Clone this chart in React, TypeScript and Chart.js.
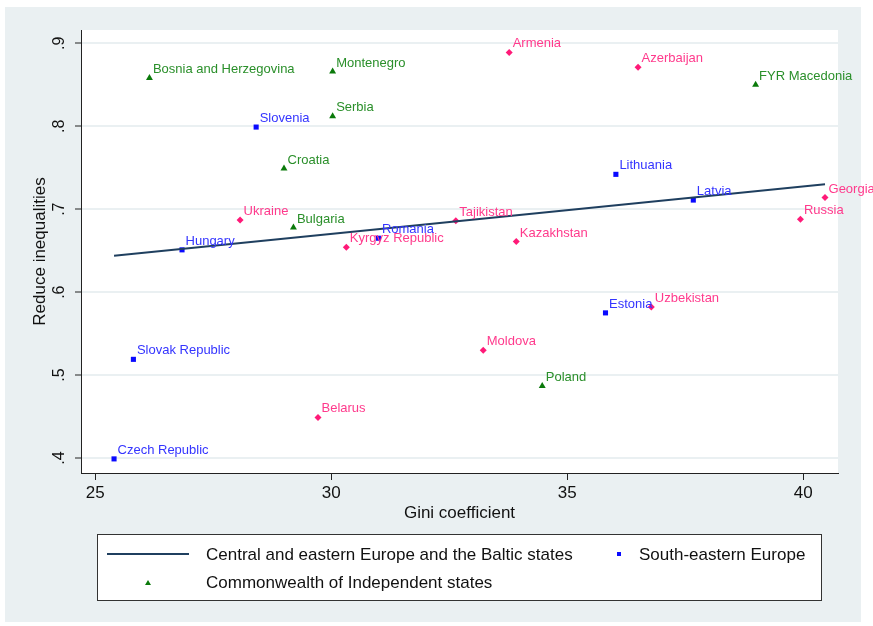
import React, { useEffect, useRef } from "react";
import { Chart, registerables } from "chart.js";

Chart.register(...registerables);

// ---- Data ----
const blueNames = ["Slovenia", "Hungary", "Romania", "Lithuania", "Latvia", "Slovak Republic", "Czech Republic", "Estonia"];
const blueGini = [28.41, 26.84, 31.0, 36.03, 37.67, 25.81, 25.4, 35.81];
const blueReduce = [0.799, 0.651, 0.665, 0.742, 0.711, 0.519, 0.399, 0.575];

const greenNames = ["Bosnia and Herzegovina", "Croatia", "Bulgaria", "Montenegro", "Serbia", "FYR Macedonia", "Poland"];
const greenGini = [26.15, 29.0, 29.2, 30.03, 30.03, 38.99, 34.47];
const greenReduce = [0.858, 0.749, 0.678, 0.866, 0.812, 0.85, 0.487];

const pinkNames = ["Ukraine", "Armenia", "Tajikistan", "Kyrgyz Republic", "Kazakhstan", "Azerbaijan", "Georgia", "Russia", "Moldova", "Belarus", "Uzbekistan"];
const pinkGini = [28.07, 33.77, 32.64, 30.32, 33.92, 36.5, 40.46, 39.94, 33.22, 29.72, 36.78];
const pinkReduce = [0.687, 0.889, 0.686, 0.654, 0.661, 0.871, 0.714, 0.688, 0.53, 0.449, 0.582];

const fitGini = [25.4, 40.46];
const fitReduce = [0.644, 0.73];

const xTicks = [25, 30, 35, 40];
const yTicks = [0.4, 0.5, 0.6, 0.7, 0.8, 0.9];
const yTickLabels = [".4", ".5", ".6", ".7", ".8", ".9"];

const legendLine = "Central and eastern Europe and the Baltic states";
const legendBlue = "South-eastern Europe";
const legendGreen = "Commonwealth of Independent states";
const xTitle = "Gini coefficient";
const yTitle = "Reduce inequalities";

const FONT = "'Liberation Sans', Arial, sans-serif";
const BG = "#eaf0f2";
const LINE_COLOR = "#1f3f5f";
const BLUE = "#0a0aff";
const BLUE_TXT = "#3434ff";
const GREEN = "#0b7a0b";
const GREEN_TXT = "#2a8f2a";
const PINK = "#ff1a78";
const PINK_TXT = "#ff3a8c";

const pts = (xs: number[], ys: number[]) => xs.map((x, i) => ({ x, y: ys[i] }));

export default function App() {
  const ref = useRef<HTMLCanvasElement | null>(null);

  useEffect(() => {
    const canvas = ref.current;
    if (!canvas) return;

    const bgPlugin = {
      id: "bg",
      beforeDraw(chart: any) {
        const { ctx, chartArea } = chart;
        ctx.save();
        ctx.fillStyle = "#ffffff";
        ctx.fillRect(0, 0, chart.width, chart.height);
        ctx.fillStyle = BG;
        ctx.fillRect(5, 7, 856, 615);
        ctx.fillStyle = "#ffffff";
        ctx.fillRect(chartArea.left, chartArea.top, chartArea.right - chartArea.left, chartArea.bottom - chartArea.top);
        ctx.restore();
      },
    };

    const labelPlugin = {
      id: "labels",
      afterDatasetsDraw(chart: any) {
        const { ctx } = chart;
        const groups: [number, string[], string][] = [
          [1, blueNames, BLUE_TXT],
          [2, greenNames, GREEN_TXT],
          [3, pinkNames, PINK_TXT],
        ];
        ctx.save();
        ctx.font = `13px ${FONT}`;
        ctx.textAlign = "left";
        ctx.textBaseline = "middle";
        groups.forEach(([idx, names, color]) => {
          const meta = chart.getDatasetMeta(idx);
          ctx.fillStyle = color;
          meta.data.forEach((el: any, i: number) => {
            ctx.fillText(names[i], el.x + 3.5, el.y - 8.5);
          });
        });
        ctx.restore();
      },
      afterDraw(chart: any) {
        const { ctx } = chart;
        const ys = chart.scales.y;
        ctx.save();
        ctx.fillStyle = "#111";
        // y tick labels (rotated)
        ctx.font = `16px ${FONT}`;
        ctx.textAlign = "center";
        ctx.textBaseline = "middle";
        yTicks.forEach((v, i) => {
          const py = ys.getPixelForValue(v);
          ctx.save();
          ctx.translate(60, py);
          ctx.rotate(-Math.PI / 2);
          ctx.fillText(yTickLabels[i], 0, 0);
          ctx.restore();
        });
        // axis titles
        ctx.font = `17px ${FONT}`;
        ctx.save();
        ctx.translate(40, (chart.chartArea.top + chart.chartArea.bottom) / 2);
        ctx.rotate(-Math.PI / 2);
        ctx.fillText(yTitle, 0, 0);
        ctx.restore();
        ctx.fillText(xTitle, (chart.chartArea.left + chart.chartArea.right) / 2, 513);

        // legend
        ctx.fillStyle = "#ffffff";
        ctx.fillRect(97.5, 534.5, 724, 66);
        ctx.strokeStyle = "#333";
        ctx.lineWidth = 1;
        ctx.strokeRect(97.5, 534.5, 724, 66);
        ctx.strokeStyle = LINE_COLOR;
        ctx.lineWidth = 2;
        ctx.beginPath();
        ctx.moveTo(107, 554);
        ctx.lineTo(189, 554);
        ctx.stroke();
        ctx.fillStyle = GREEN;
        ctx.beginPath();
        ctx.moveTo(148, 580);
        ctx.lineTo(151, 585);
        ctx.lineTo(145, 585);
        ctx.closePath();
        ctx.fill();
        ctx.fillStyle = BLUE;
        ctx.fillRect(617, 552, 4, 4);
        ctx.fillStyle = "#111";
        ctx.font = `17px ${FONT}`;
        ctx.textAlign = "left";
        ctx.fillText(legendLine, 206, 555, 374);
        ctx.fillText(legendBlue, 639, 555, 168);
        ctx.fillText(legendGreen, 206, 583, 292);
        ctx.restore();
      },
    };

    const chart = new Chart(canvas, {
      type: "scatter",
      data: {
        datasets: [
          {
            label: legendLine,
            data: pts(fitGini, fitReduce),
            showLine: true,
            borderColor: LINE_COLOR,
            borderWidth: 2,
            pointRadius: 0,
          } as any,
          {
            label: legendBlue,
            data: pts(blueGini, blueReduce),
            pointStyle: "rect",
            pointRadius: 3.6,
            backgroundColor: BLUE,
            borderColor: BLUE,
            borderWidth: 0,
          },
          {
            label: legendGreen,
            data: pts(greenGini, greenReduce),
            pointStyle: "triangle",
            pointRadius: 4,
            backgroundColor: GREEN,
            borderColor: GREEN,
            borderWidth: 0,
          },
          {
            label: "Other",
            data: pts(pinkGini, pinkReduce),
            pointStyle: "rectRot",
            pointRadius: 3.5,
            backgroundColor: PINK,
            borderColor: PINK,
            borderWidth: 0,
          },
        ],
      },
      options: {
        animation: false,
        responsive: false,
        devicePixelRatio: 1,
        layout: { padding: { left: 0, right: 35, top: 30, bottom: 93 } },
        plugins: { legend: { display: false }, tooltip: { enabled: false } },
        scales: {
          x: {
            type: "linear",
            min: 24.7,
            max: 40.735,
            afterBuildTicks: (s: any) => {
              s.ticks = xTicks.map((v) => ({ value: v }));
            },
            afterFit: (s: any) => {
              s.height = 60;
            },
            grid: { drawOnChartArea: false, drawTicks: true, tickLength: 7, tickColor: "#222", tickWidth: 1 },
            border: { display: true, color: "#222", width: 1 },
            ticks: {
              font: { family: FONT, size: 17 },
              color: "#111",
              padding: 3,
              maxRotation: 0,
              autoSkip: false,
              callback: (v: any) => String(v),
            },
          },
          y: {
            type: "linear",
            min: 0.382,
            max: 0.916,
            afterBuildTicks: (s: any) => {
              s.ticks = yTicks.map((v) => ({ value: v }));
            },
            afterFit: (s: any) => {
              s.width = 81;
            },
            grid: { color: BG, lineWidth: 2, drawTicks: true, tickLength: 6, tickColor: "#222", tickWidth: 1 },
            border: { display: true, color: "#222", width: 1 },
            ticks: { display: false },
          },
        },
      },
      plugins: [bgPlugin, labelPlugin],
    });

    return () => chart.destroy();
  }, []);

  return (
    <div style={{ position: "fixed", left: 0, top: 0, width: 873, height: 626 }}>
      <canvas ref={ref} width={873} height={626} style={{ width: 873, height: 626, display: "block" }} />
    </div>
  );
}
